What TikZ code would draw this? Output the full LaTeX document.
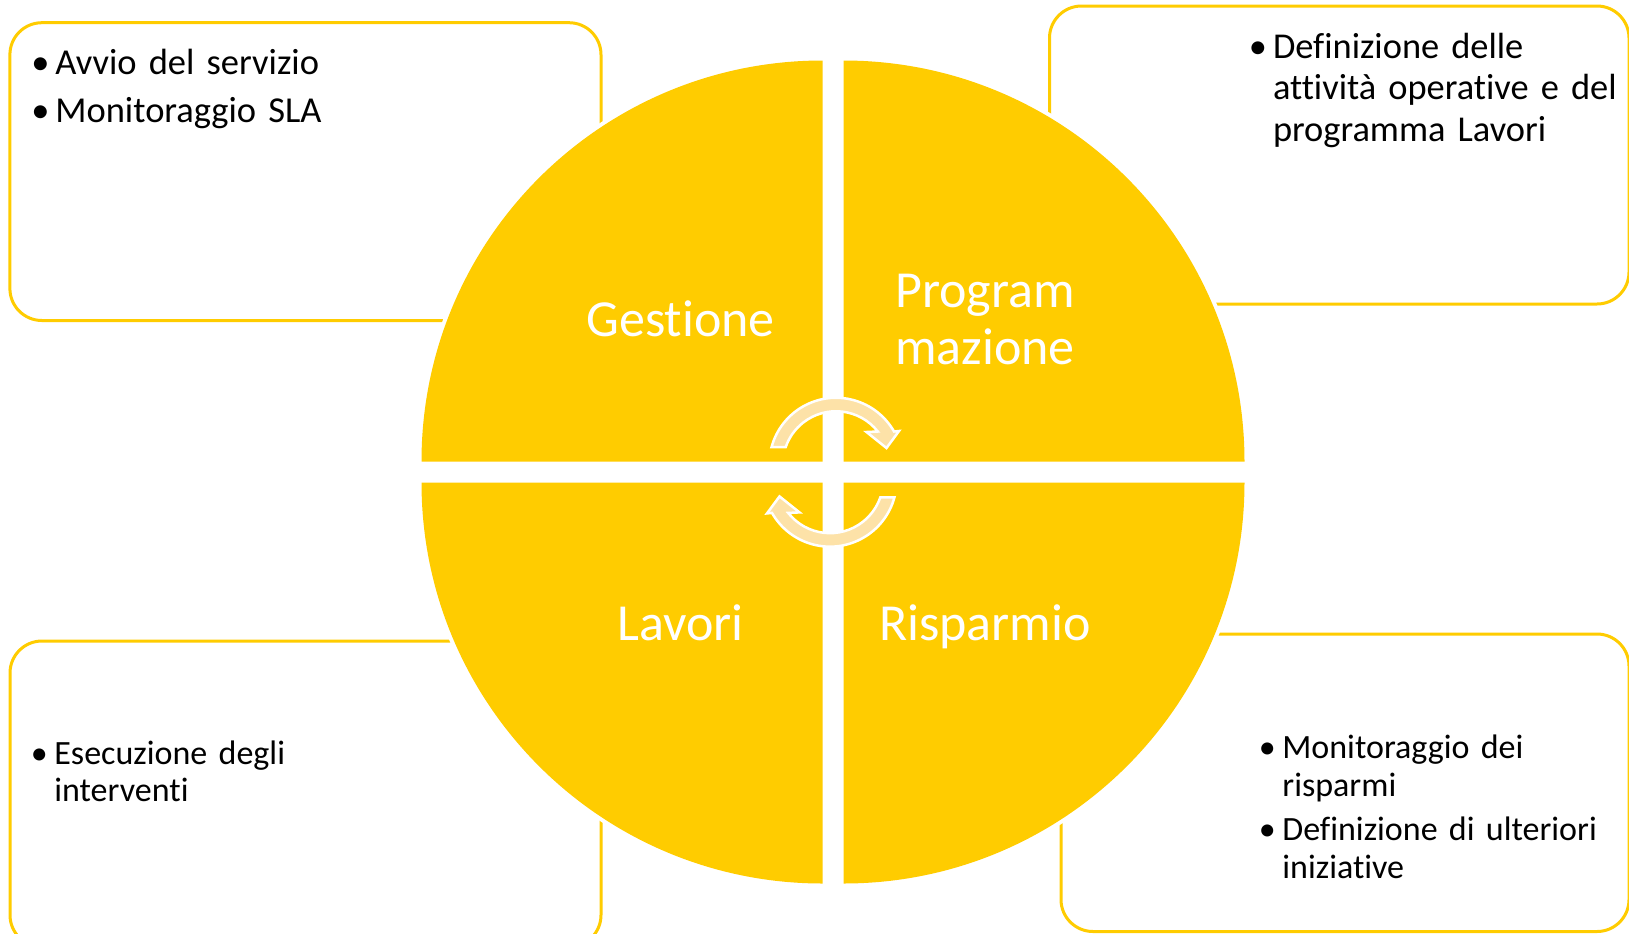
\documentclass[tikz,border=0pt]{standalone}
\usepackage{fontspec}
\setmainfont{Carlito}[Ligatures={NoCommon,NoContextual}, RawFeature={-liga;-clig;-rlig;-calt;-dlig}]
\definecolor{gold}{RGB}{255,204,0}
\definecolor{arrowfill}{RGB}{253,226,168}
\newcommand{\bulletpar}[2]{\hangindent=#1\hangafter=1\makebox[#1][c]{\textbullet}#2\par}
\tikzset{
  cbox/.style={draw=gold, line width=1.5pt, rounded corners=16pt},
  quadfill/.style={fill=gold},
  quadhalo/.style={fill=white, draw=white, line width=4pt},
  quadlabel/.style={text=white, inner sep=0pt, text width=200pt, align=center, anchor=base,
    font=\fontsize{26pt}{28.6pt}\selectfont},
  bodytext/.style={text=black, inner sep=0pt, anchor=base west},
  arrowshape/.style={fill=arrowfill, draw=white, line width=1.25pt, line join=miter}
}
\begin{document}
\begin{tikzpicture}[x=0.5pt, y=-0.5pt]
\useasboundingbox (0,0) rectangle (1629,933);
\clip (0,0) rectangle (1629,933);
\fill[white] (0,0) rectangle (1629,933);

% outer boxes
\draw[cbox] (9.9,22.7) rectangle (601,320.5);
\draw[cbox] (1049.5,6) rectangle (1629,304);
\draw[cbox] (10,641) rectangle (601,947);
\draw[cbox] (1061,634) rectangle (1629,931.5);

% quadrants: white halo then yellow fill
\path[quadhalo] (822.5,461.5) -- (421.5,461.5) arc[start angle=180, end angle=270, radius=401] -- cycle;
\path[quadhalo] (843.5,461.5) -- (843.5,60.5) arc[start angle=270, end angle=360, radius=401] -- cycle;
\path[quadhalo] (843.5,482.5) -- (1244.5,482.5) arc[start angle=0, end angle=90, radius=401] -- cycle;
\path[quadhalo] (822.5,482.5) -- (822.5,883.5) arc[start angle=90, end angle=180, radius=401] -- cycle;
\fill[quadfill] (822.5,461.5) -- (421.5,461.5) arc[start angle=180, end angle=270, radius=401] -- cycle;
\fill[quadfill] (843.5,461.5) -- (843.5,60.5) arc[start angle=270, end angle=360, radius=401] -- cycle;
\fill[quadfill] (843.5,482.5) -- (1244.5,482.5) arc[start angle=0, end angle=90, radius=401] -- cycle;
\fill[quadfill] (822.5,482.5) -- (822.5,883.5) arc[start angle=90, end angle=180, radius=401] -- cycle;

% circular arrows
\foreach \r in {0,180}{
  \begin{scope}[rotate around={\r:(833,472.2)}]
    \filldraw[arrowshape] (771.59,447.0) arc[start angle=195.2, end angle=330.4, radius=66.75]
      -- (899,431) -- (886.5,448) -- (866.5,432) -- (877.8,431.5)
      arc[start angle=321.7, end angle=199.2, radius=53.25] -- cycle;
  \end{scope}
}

% quadrant labels
\node[quadlabel] (gestione) at (680.5,336) {Gestione};
\node[quadlabel] (programmazione) at (985,307.5) {Program\\mazione};
\node[quadlabel] (lavori) at (680.5,640) {Lavori};
\node[quadlabel] (risparmio) at (985,640) {Risparmio};

% box texts
\node[bodytext, text width=290pt, font=\fontsize{18.25pt}{20pt}\selectfont] (tltext) at (25,74.3)
  {\setlength{\parskip}{4pt}\bulletpar{15pt}{Avvio del servizio}\bulletpar{15pt}{Monitoraggio SLA}};
\node[bodytext, text width=200pt, font=\fontsize{18.2pt}{20.8pt}\selectfont] (trtext) at (1242.6,58)
  {\bulletpar{15pt}{Definizione delle\newline attività operative e del\newline programma Lavori}};
\node[bodytext, text width=280pt, font=\fontsize{17pt}{18.7pt}\selectfont] (bltext) at (24,764.3)
  {\bulletpar{15pt}{Esecuzione degli\newline interventi}};
\node[bodytext, text width=190pt, font=\fontsize{17pt}{19pt}\selectfont] (brtext) at (1252,758)
  {\setlength{\parskip}{3.3pt}\bulletpar{15pt}{Monitoraggio dei\newline risparmi}\bulletpar{15pt}{Definizione di ulteriori\newline iniziative}};
\end{tikzpicture}
\end{document}
